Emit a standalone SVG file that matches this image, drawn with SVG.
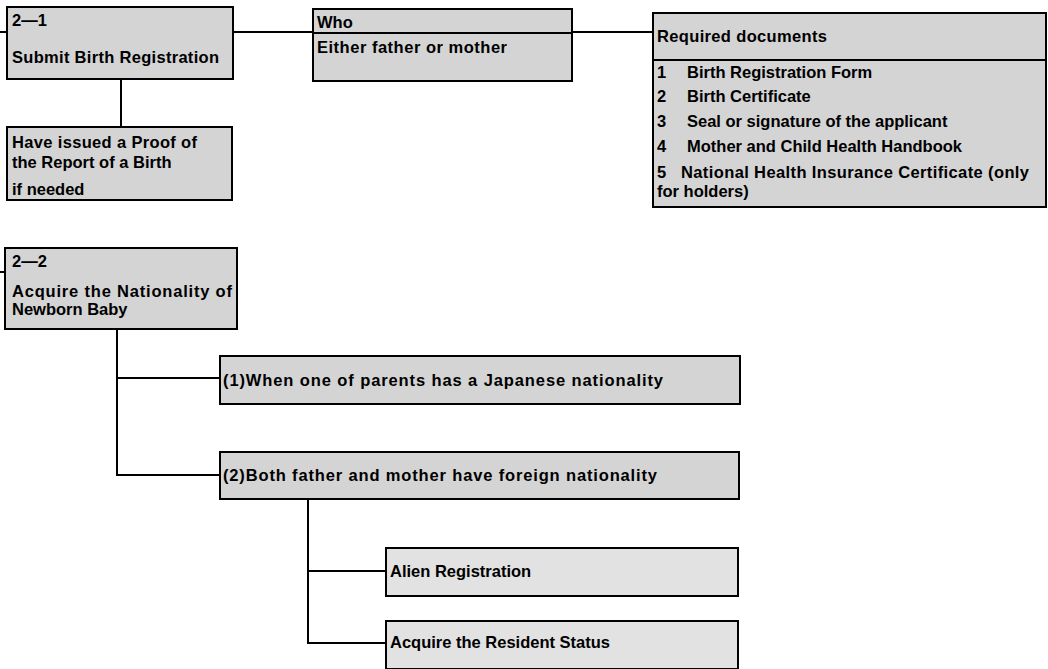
<svg xmlns="http://www.w3.org/2000/svg" width="1048" height="669" viewBox="0 0 1048 669">
<style>
.box{fill:#d4d4d4;stroke:#000;stroke-width:2}
.lite{fill:#e2e2e2;stroke:#000;stroke-width:2}
.div{stroke:#000;stroke-width:2;fill:none}
.t{font-family:"Liberation Sans",Arial,sans-serif;font-weight:bold;font-size:16.5px;fill:#000}
#connectors path{stroke:#000;stroke-width:2;fill:none}
</style>
<rect width="1048" height="669" fill="#fff"/>
<g id="connectors">
<path d="M0,32H7"/>
<path d="M233,32H313"/>
<path d="M572,32H653"/>
<path d="M121,79V127"/>
<path d="M0,272H5"/>
<path d="M117,329V475H220M117,378H220"/>
<path d="M308,499V643H386M308,571H386"/>
</g>
<g id="n21">
<rect class="box" x="7" y="7" width="226" height="72"/>
<text class="t" x="12" y="26">2—1</text>
<text class="t" x="12" y="63" textLength="207" lengthAdjust="spacing">Submit Birth Registration</text>
</g>
<g id="proof">
<rect class="box" x="7" y="127" width="225" height="73"/>
<text class="t" x="12" y="148" textLength="185" lengthAdjust="spacing">Have issued a Proof of</text>
<text class="t" x="12" y="168">the Report of a Birth</text>
<text class="t" x="12" y="195">if needed</text>
</g>
<g id="who">
<rect class="box" x="313" y="9" width="259" height="72"/>
<path class="div" d="M313,33H572"/>
<text class="t" x="317" y="28">Who</text>
<text class="t" x="317" y="53" textLength="190" lengthAdjust="spacing">Either father or mother</text>
</g>
<g id="docs">
<rect class="box" x="653" y="13" width="393" height="194"/>
<path class="div" d="M653,60H1046"/>
<text class="t" x="657" y="42" textLength="170" lengthAdjust="spacing">Required documents</text>
<text class="t" y="78"><tspan x="657">1</tspan><tspan x="687">Birth Registration Form</tspan></text>
<text class="t" y="102"><tspan x="657">2</tspan><tspan x="687">Birth Certificate</tspan></text>
<text class="t" y="127"><tspan x="657">3</tspan><tspan x="687">Seal or signature of the applicant</tspan></text>
<text class="t" y="152"><tspan x="657">4</tspan><tspan x="687">Mother and Child Health Handbook</tspan></text>
<text class="t" y="178"><tspan x="657">5</tspan><tspan x="681" textLength="348" lengthAdjust="spacing">National Health Insurance Certificate (only</tspan></text>
<text class="t" x="657" y="197">for holders)</text>
</g>
<g id="n22">
<rect class="box" x="5" y="248" width="232" height="81"/>
<text class="t" x="12" y="267">2—2</text>
<text class="t" x="12" y="297" textLength="220" lengthAdjust="spacing">Acquire the Nationality of</text>
<text class="t" x="12" y="315">Newborn Baby</text>
</g>
<g id="case1">
<rect class="box" x="220" y="356" width="520" height="48"/>
<text class="t" x="223" y="386" textLength="440" lengthAdjust="spacing">(1)When one of parents has a Japanese nationality</text>
</g>
<g id="case2">
<rect class="box" x="220" y="452" width="519" height="47"/>
<text class="t" x="223" y="481" textLength="434" lengthAdjust="spacing">(2)Both father and mother have foreign nationality</text>
</g>
<g id="alien">
<rect class="lite" x="386" y="548" width="352" height="48"/>
<text class="t" x="390" y="577">Alien Registration</text>
</g>
<g id="resident">
<rect class="lite" x="386" y="621" width="352" height="48"/>
<text class="t" x="390" y="648">Acquire the Resident Status</text>
</g>
</svg>
